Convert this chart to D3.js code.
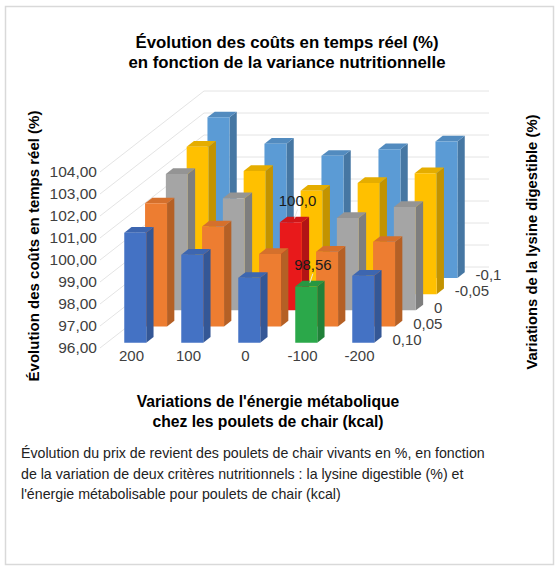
<!DOCTYPE html>
<html>
<head>
<meta charset="utf-8">
<script src="https://cdn.jsdelivr.net/npm/d3@7"></script>
<style>
  body { margin: 0; background: #fff; }
  svg { display: block; font-family: "Liberation Sans", Arial, sans-serif; }
</style>
</head>
<body>
<svg id="chart" width="559" height="573"></svg>
<script>
// energy variations (x) and lysine variations (depth, front to back)
const energies = ["200", "100", "0", "-100", "-200"];
const lysines = ["0,10", "0,05", "0", "-0,05", "-0,1"];

// cost (%) per lysine row, in energy order
const row010 = [101.0, 100.0, 98.95, 98.56, 99.05];
const row005 = [101.6, 100.55, 99.3, 99.4, 99.85];
const row000 = [102.2, 101.1, 100.0, 100.2, 100.7];
const rowM005 = [102.7, 101.6, 100.7, 101.05, 101.5];
const rowM010 = [103.3, 102.1, 101.55, 101.85, 102.2];

const seriesColors = ["#4472C4", "#ED7D31", "#A5A5A5", "#FFC000", "#5B9BD5"];
const yTicks = [96, 97, 98, 99, 100, 101, 102, 103, 104];

// the two labelled bars
const highlights = [
  { lysine: "0", energy: "0", color: "#E8191B", label: "100,0" },
  { lysine: "0,10", energy: "-100", color: "#2BA84A", label: "98,56" }
];

const rows = [row010, row005, row000, rowM005, rowM010];

const svg = d3.select("#chart");

// floor front-left corner and depth vector of the oblique view
const ox = 100, oy = 348;
const depthX = 104, depthY = -81;

const x = d3.scaleBand().domain(energies).range([0, 285])
  .paddingInner(0.614).paddingOuter(0.307);
const z = d3.scaleBand().domain(lysines).range([0, 1])
  .paddingInner(0.65).paddingOuter(0.325);
const y = d3.scaleLinear().domain([96, 104]).range([0, -176]);

const proj = (px, py, d) => [ox + px + d * depthX, oy + py + d * depthY];

// outer frame
svg.append("rect")
  .attr("x", 5.5).attr("y", 6.5)
  .attr("width", 548).attr("height", 558)
  .attr("fill", "#fff")
  .attr("stroke", "#d9d9d9")
  .attr("stroke-width", 1.5);

// walls gridlines
const grid = svg.append("g")
  .attr("stroke", "#e4e4e4")
  .attr("stroke-width", 1)
  .attr("fill", "none");

yTicks.forEach((t) => {
  const a = proj(0, y(t), 0);
  const b = proj(0, y(t), 1);
  const c = proj(285, y(t), 1);
  grid.append("polyline").attr("points", [a, b, c].map((p) => p.join(",")).join(" "));
});

// bars, back row first
const bars = [];
lysines.forEach((l, k) => {
  energies.forEach((e, i) => {
    const h = highlights.find((d) => d.lysine === l && d.energy === e);
    bars.push({
      lysine: l,
      energy: e,
      value: rows[k][i],
      color: h ? h.color : seriesColors[k],
      label: h ? h.label : null
    });
  });
});
bars.reverse();

const barG = svg.append("g");
const pts = (arr) => arr.map((p) => p.join(",")).join(" ");

bars.forEach((b) => {
  const x0 = x(b.energy), x1 = x0 + x.bandwidth();
  const d0 = z(b.lysine), d1 = d0 + z.bandwidth();
  const top = y(b.value);
  const base = d3.color(b.color);

  const g = barG.append("g");
  // right side face
  g.append("polygon")
    .attr("points", pts([proj(x1, 0, d0), proj(x1, 0, d1), proj(x1, top, d1), proj(x1, top, d0)]))
    .attr("fill", base.darker(0.75));
  // top face
  g.append("polygon")
    .attr("points", pts([proj(x0, top, d0), proj(x1, top, d0), proj(x1, top, d1), proj(x0, top, d1)]))
    .attr("fill", base.darker(0.3));
  // front face
  g.append("polygon")
    .attr("points", pts([proj(x0, 0, d0), proj(x1, 0, d0), proj(x1, top, d0), proj(x0, top, d0)]))
    .attr("fill", base);
});

// value labels for the two highlighted bars
bars.filter((b) => b.label).forEach((b) => {
  const cx = x(b.energy) + x.bandwidth() / 2;
  const dc = z(b.lysine) + z.bandwidth() / 2;
  const p = proj(cx, y(b.value), dc);
  svg.append("line")
    .attr("x1", p[0] + 3).attr("y1", p[1] - 10)
    .attr("x2", p[0]).attr("y2", p[1] - 1)
    .attr("stroke", "#e8e8e8")
    .attr("stroke-width", 1);
  svg.append("text")
    .attr("x", p[0] + 3).attr("y", p[1] - 14)
    .attr("text-anchor", "middle")
    .attr("font-size", 15)
    .attr("fill", "#1a1a1a")
    .text(b.label);
});

// value axis (front-left edge)
const yAxis = d3.axisLeft(y)
  .tickValues(yTicks)
  .tickSize(0)
  .tickPadding(3)
  .tickFormat((d) => d3.format(".2f")(d).replace(".", ","));

svg.append("g")
  .attr("transform", `translate(${ox},${oy})`)
  .call(yAxis)
  .call((g) => g.select(".domain").remove())
  .selectAll("text")
  .attr("font-size", 15.5)
  .attr("font-family", "Liberation Sans, Arial, sans-serif")
  .attr("fill", "#404040");

// energy axis (front edge)
const xAxis = d3.axisBottom(x).tickSize(0).tickPadding(2);
svg.append("g")
  .attr("transform", `translate(${ox + 3},${oy})`)
  .call(xAxis)
  .call((g) => g.select(".domain").remove())
  .selectAll("text")
  .attr("font-size", 15)
  .attr("font-family", "Liberation Sans, Arial, sans-serif")
  .attr("fill", "#404040");

// lysine axis (right floor edge)
svg.append("g")
  .selectAll("text")
  .data(lysines)
  .join("text")
  .attr("x", (d) => proj(282, 0, z(d) + z.bandwidth() / 2)[0])
  .attr("y", (d) => proj(282, 0, z(d) + z.bandwidth() / 2)[1] + 5)
  .attr("font-size", 15)
  .attr("fill", "#404040")
  .text((d) => d);

// titles
const title = svg.append("text")
  .attr("text-anchor", "middle")
  .attr("font-size", 16.8)
  .attr("font-weight", "bold")
  .attr("fill", "#000");
title.append("tspan").attr("x", 287).attr("y", 48).text("Évolution des coûts en temps réel (%)");
title.append("tspan").attr("x", 287).attr("y", 68).text("en fonction de la variance nutritionnelle");

svg.append("text")
  .attr("transform", "translate(39,246) rotate(-90)")
  .attr("text-anchor", "middle")
  .attr("font-size", 15)
  .attr("font-weight", "bold")
  .attr("fill", "#000")
  .text("Évolution des coûts en temps réel (%)");

svg.append("text")
  .attr("transform", "translate(537,242) rotate(-90)")
  .attr("text-anchor", "middle")
  .attr("font-size", 14.8)
  .attr("font-weight", "bold")
  .attr("fill", "#000")
  .text("Variations de la lysine digestible (%)");

const xTitle = svg.append("text")
  .attr("text-anchor", "middle")
  .attr("font-size", 15.7)
  .attr("font-weight", "bold")
  .attr("fill", "#000");
xTitle.append("tspan").attr("x", 268).attr("y", 407).text("Variations de l'énergie métabolique");
xTitle.append("tspan").attr("x", 268).attr("y", 427).text("chez les poulets de chair (kcal)");

// caption
const caption = svg.append("text")
  .attr("font-size", 14.2)
  .attr("fill", "#222");
[
  "Évolution du prix de revient des poulets de chair vivants en %, en fonction",
  "de la variation de deux critères nutritionnels : la lysine digestible (%) et",
  "l'énergie métabolisable pour poulets de chair (kcal)"
].forEach((line, i) => {
  caption.append("tspan").attr("x", 21).attr("y", 458 + i * 20.5).text(line);
});
</script>
</body>
</html>
